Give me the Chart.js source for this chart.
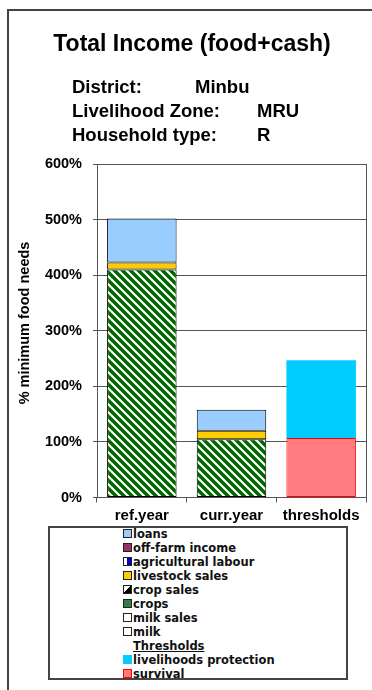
<!DOCTYPE html>
<html>
<head>
<meta charset="utf-8">
<script src="https://cdn.jsdelivr.net/npm/chart.js@4/dist/chart.umd.min.js"></script>
<style>
  html, body { margin: 0; padding: 0; background: #fff; }
  body { width: 372px; height: 690px; position: relative; overflow: hidden; font-family: "Liberation Sans", Arial, sans-serif; }
  #frame { position: absolute; left: 7px; top: 9px; width: 400px; height: 700px; border-left: 2px solid #444; border-top: 2px solid #444; }
  canvas { position: absolute; left: 0; top: 0; }
  .t { position: absolute; font-weight: bold; color: #000; white-space: nowrap; }
  #title { left: 0; width: 384px; text-align: center; top: 29px; font-size: 23px; line-height: 28px; }
  .sub { font-size: 18.5px; line-height: 22px; }
  #legend { position: absolute; left: 48px; top: 526px; width: 296px; height: 150px; border: 2px solid #444; overflow: hidden; background: #fff; }
  .li { position: absolute; left: 73px; height: 14px; font-family: "DejaVu Sans", Verdana, sans-serif; font-weight: bold; font-size: 11.5px; line-height: 14px; color: #111; white-space: nowrap; }
  .sw { display: inline-block; width: 7px; height: 7px; border: 1px solid #222; vertical-align: 0px; margin-right: 1px; box-sizing: content-box; }
  .hd { text-decoration: underline; }
</style>
</head>
<body>
<div id="frame"></div>
<canvas id="c" width="372" height="690"></canvas>
<div id="title" class="t">Total Income (food+cash)</div>
<div id="legend"></div>
<script>
// Categories and values (% of minimum food needs)
const categories = ['ref.year', 'curr.year', 'thresholds'];
const milk = [0, 0, 0];
const milkSales = [0, 0, 0];
const crops = [410, 105, 0];
const cropSales = [0, 0, 0];
const livestockSales = [13, 15, 0];
const agriculturalLabour = [0, 0, 0];
const offFarmIncome = [0, 0, 0];
const loans = [79, 38, 0];
const survival = [0, 0, 107];
const livelihoodsProtection = [0, 0, 140];
const yTicks = [0, 100, 200, 300, 400, 500, 600];

const headerLines = [
  ['District:', 'Minbu', 195],
  ['Livelihood Zone:', 'MRU', 257],
  ['Household type:', 'R', 257]
];
headerLines.forEach(function (row, i) {
  const top = 76 + i * 24;
  const a = document.createElement('div');
  a.className = 't sub'; a.style.left = '72px'; a.style.top = top + 'px'; a.textContent = row[0];
  const b = document.createElement('div');
  b.className = 't sub'; b.style.left = row[2] + 'px'; b.style.top = top + 'px'; b.textContent = row[1];
  document.body.appendChild(a); document.body.appendChild(b);
});

// green fill with white diagonal stripes
function hatch(bg, fg, size) {
  const c = document.createElement('canvas');
  c.width = c.height = size;
  const g = c.getContext('2d');
  g.fillStyle = bg; g.fillRect(0, 0, size, size);
  g.strokeStyle = fg; g.lineWidth = 2.2;
  g.beginPath();
  g.moveTo(-size, 0); g.lineTo(size, size * 2);
  g.moveTo(0, 0); g.lineTo(size, size);
  g.moveTo(0, -size); g.lineTo(size * 2, size);
  g.moveTo(-size / 2, size / 2); g.lineTo(size / 2, size * 1.5);
  g.stroke();
  return g.createPattern(c, 'repeat');
}
const ctx = document.getElementById('c').getContext('2d');
const cropsFill = hatch('#006600', '#ffffff', 8);

function seg(label, data, fill, border) {
  return {
    label: label, data: data, backgroundColor: fill, stack: 's',
    borderColor: border,
    borderWidth: function (c) { return c.raw ? 1 : 0; },
    borderSkipped: false
  };
}

const datasets = [
  seg('milk', milk, '#ffffff', '#000'),
  seg('milk sales', milkSales, '#ffffff', '#000'),
  seg('crops', crops, cropsFill, '#000'),
  seg('crop sales', cropSales, '#ffffff', '#000'),
  seg('livestock sales', livestockSales, '#ffcc00', '#000'),
  seg('agricultural labour', agriculturalLabour, '#0000cc', '#000'),
  seg('off-farm income', offFarmIncome, '#993366', '#000'),
  seg('loans', loans, '#99ccff', '#000'),
  seg('survival', survival, '#ff7c80', '#ff0000'),
  { label: 'livelihoods protection', data: livelihoodsProtection, backgroundColor: '#00ccff', stack: 's', borderWidth: 0 }
];

const AXIS = '#555';
const frameLines = {
  id: 'frameLines',
  afterDatasetsDraw: function (chart) {
    const a = chart.chartArea, g = chart.ctx;
    g.save();
    g.strokeStyle = AXIS; g.lineWidth = 1;
    g.beginPath(); g.moveTo(a.right + 0.5, a.top); g.lineTo(a.right + 0.5, a.bottom); g.stroke();
    g.fillStyle = '#000';
    g.font = 'bold 14.5px "Liberation Sans", Arial, sans-serif';
    g.textAlign = 'center'; g.textBaseline = 'middle';
    g.translate(25, 323);
    g.rotate(-Math.PI / 2);
    g.fillText('% minimum food needs', 0, 0);
    g.restore();
  }
};

new Chart(ctx, {
  type: 'bar',
  data: { labels: categories, datasets: datasets },
  options: {
    responsive: false,
    animation: false,
    layout: { padding: { left: 0, top: 164, right: 6, bottom: 162.5 } },
    barPercentage: 0.775,
    categoryPercentage: 1,
    plugins: { legend: { display: false }, tooltip: { enabled: false } },
    scales: {
      x: {
        stacked: true,
        afterFit: function (s) { s.height = 30; },
        grid: { display: true, drawOnChartArea: false, drawTicks: true, tickLength: 5, color: AXIS, offset: true },
        border: { display: true, color: AXIS },
        ticks: { color: '#000', padding: 4, font: { family: '"Liberation Sans", Arial, sans-serif', size: 15, weight: 'bold' } }
      },
      y: {
        stacked: true,
        min: 0, max: 600,
        afterFit: function (s) { s.width = 97; },
        afterBuildTicks: function (s) { s.ticks = yTicks.map(function (v) { return { value: v }; }); },
        grid: { color: AXIS, tickLength: 4 },
        border: { display: true, color: AXIS },
        ticks: {
          color: '#000', padding: 11,
          font: { family: '"Liberation Sans", Arial, sans-serif', size: 14.5, weight: 'bold' },
          callback: function (v) { return v + '%'; }
        }
      }
    }
  },
  plugins: [frameLines]
});

// legend, top entry first
const legendItems = [
  ['loans', 'background:#99ccff'],
  ['off-farm income', 'background:#993366'],
  ['agricultural labour', 'background:linear-gradient(90deg,#fff 45%,#0000cc 45%)'],
  ['livestock sales', 'background:#ffcc00'],
  ['crop sales', 'background:linear-gradient(135deg,#fff 50%,#000 50%)'],
  ['crops', 'background:#2f7f4f'],
  ['milk sales', 'background:#fff'],
  ['milk', 'background:#fff'],
  ['Thresholds', null],
  ['livelihoods protection', 'background:#00ccff;border-color:#00ccff'],
  ['survival', 'background:#ff7c80;border-color:#ff0000']
];
const lg = document.getElementById('legend');
legendItems.forEach(function (it, i) {
  const d = document.createElement('div');
  d.className = 'li';
  d.style.top = (-1 + i * 14) + 'px';
  if (it[1] === null) {
    d.innerHTML = '<span class="sw" style="border-color:transparent"></span><span class="hd"></span>';
  } else {
    d.innerHTML = '<span class="sw" style="' + it[1] + '"></span><span></span>';
  }
  d.lastChild.textContent = it[0];
  lg.appendChild(d);
});
</script>
</body>
</html>
